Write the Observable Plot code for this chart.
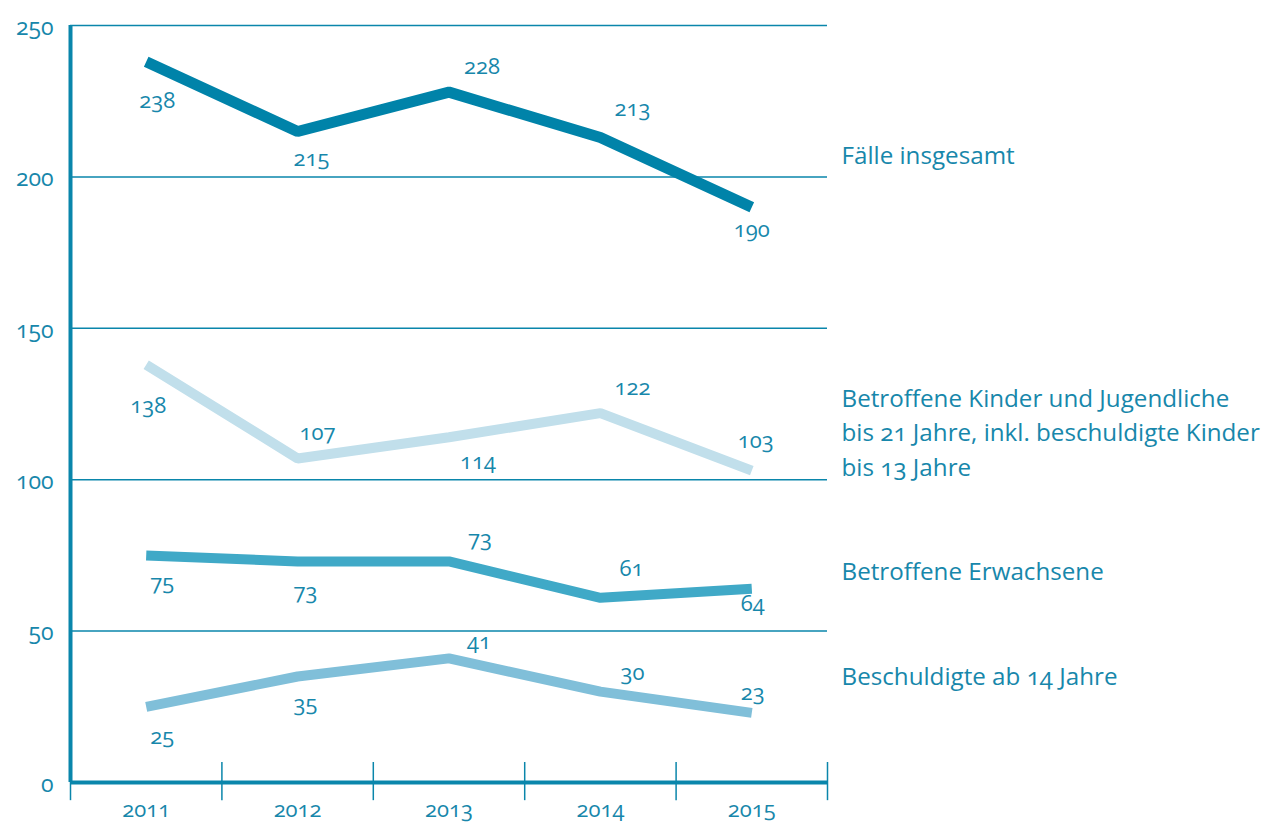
<!DOCTYPE html>
<html>
<head>
<meta charset="utf-8">
<script src="https://cdn.jsdelivr.net/npm/d3@7"></script>
<script src="https://cdn.jsdelivr.net/npm/@observablehq/plot@0.6"></script>
<style>
  html, body { margin: 0; padding: 0; background: #fff; }
  #chart svg { display: block; font-variant-numeric: oldstyle-nums; }
</style>
</head>
<body>
<div id="chart"></div>
<script>
// ---- data ----
const years = [2011, 2012, 2013, 2014, 2015];
const seriesNames = [
  "Fälle insgesamt",
  "Betroffene Kinder und Jugendliche\nbis 21 Jahre, inkl. beschuldigte Kinder\nbis 13 Jahre",
  "Betroffene Erwachsene",
  "Beschuldigte ab 14 Jahre"
];
const faelle = [238, 215, 228, 213, 190];
const kinder = [138, 107, 114, 122, 103];
const erwachsene = [75, 73, 73, 61, 64];
const beschuldigte = [25, 35, 41, 30, 23];
const yTicks = [0, 50, 100, 150, 200, 250];

// ---- layout / style (not data) ----
const ink = "#0a86ab";
const textInk = "#1787ab";
const colors = ["#0083a9", "#c1dfeb", "#40a9c7", "#80bfd9"];
const widths = [11, 10, 10, 10];
const seriesLabelY = [207, 115.3, 69.4, 35];  // vertical anchor of right-hand labels (value units)
// pixel offsets of the value labels relative to their points
const offsets = [
  [[11, 39], [14, 27], [33, -25], [32, -29], [0, 23]],
  [[2, 41], [20, -26], [29, 25], [32, -25], [4, -30]],
  [[16, 28], [8, 30], [31, -23], [31, -29], [1, 15]],
  [[16, 30], [8, 27], [30, -16], [32, -19], [1, -20]]
];

const allSeries = [faelle, kinder, erwachsene, beschuldigte];
const rows = allSeries.map((vals, s) => years.map((yr, i) => ({series: s, year: yr, value: vals[i]})));
const boundaries = d3.range(years.length + 1).map(i => years[0] - 0.5 + i);

const lineMarks = rows.map((r, s) => Plot.line(r, {
  x: "year", y: "value", stroke: colors[s], strokeWidth: widths[s],
  strokeLinecap: "butt", strokeLinejoin: "miter"
}));

const valueLabels = rows.flatMap((r, s) => r.map((d, i) => Plot.text([d], {
  x: "year", y: "value", text: d => String(d.value),
  dx: offsets[s][i][0], dy: offsets[s][i][1],
  fill: textInk, fontSize: 22, textAnchor: "middle", fontVariant: "oldstyle-nums"
})));

const seriesLabels = Plot.text(seriesNames.map((n, s) => ({name: n, y: seriesLabelY[s]})), {
  x: () => boundaries[boundaries.length - 1], y: "y", text: "name",
  dx: 14, dy: -3, textAnchor: "start", lineAnchor: "middle", lineHeight: 1.43,
  fill: textInk, fontSize: 24.2, fontVariant: "oldstyle-nums"
});

const chart = Plot.plot({
  width: 1266,
  height: 823,
  marginLeft: 70,
  marginRight: 439,
  marginTop: 25,
  marginBottom: 41,
  style: {fontFamily: "'Open Sans', sans-serif", color: textInk, background: "#fff"},
  x: {domain: [boundaries[0], boundaries[boundaries.length - 1]]},
  y: {domain: [0, 250]},
  marks: [
    Plot.gridY(yTicks.filter(t => t > 0), {stroke: ink, strokeOpacity: 1, strokeWidth: 1.5}),
    Plot.axisY(yTicks, {tickSize: 0, tickPadding: 17, fontSize: 23, fill: textInk, label: null,
      fontVariant: "oldstyle-nums", tickFormat: d => String(d), dy: 2}),
    Plot.axisX(years, {tickSize: 0, tickPadding: 19, fontSize: 22, fill: textInk, label: null,
      fontVariant: "oldstyle-nums", tickFormat: d => String(d)}),
    Plot.ruleX(boundaries, {y1: -6, y2: 6.6, stroke: ink, strokeWidth: 1.5}),
    Plot.ruleX([boundaries[0]], {stroke: ink, strokeWidth: 4}),
    Plot.ruleY([0], {stroke: ink, strokeWidth: 4}),
    ...lineMarks,
    ...valueLabels,
    seriesLabels
  ]
});
document.getElementById("chart").appendChild(chart);
</script>
</body>
</html>
